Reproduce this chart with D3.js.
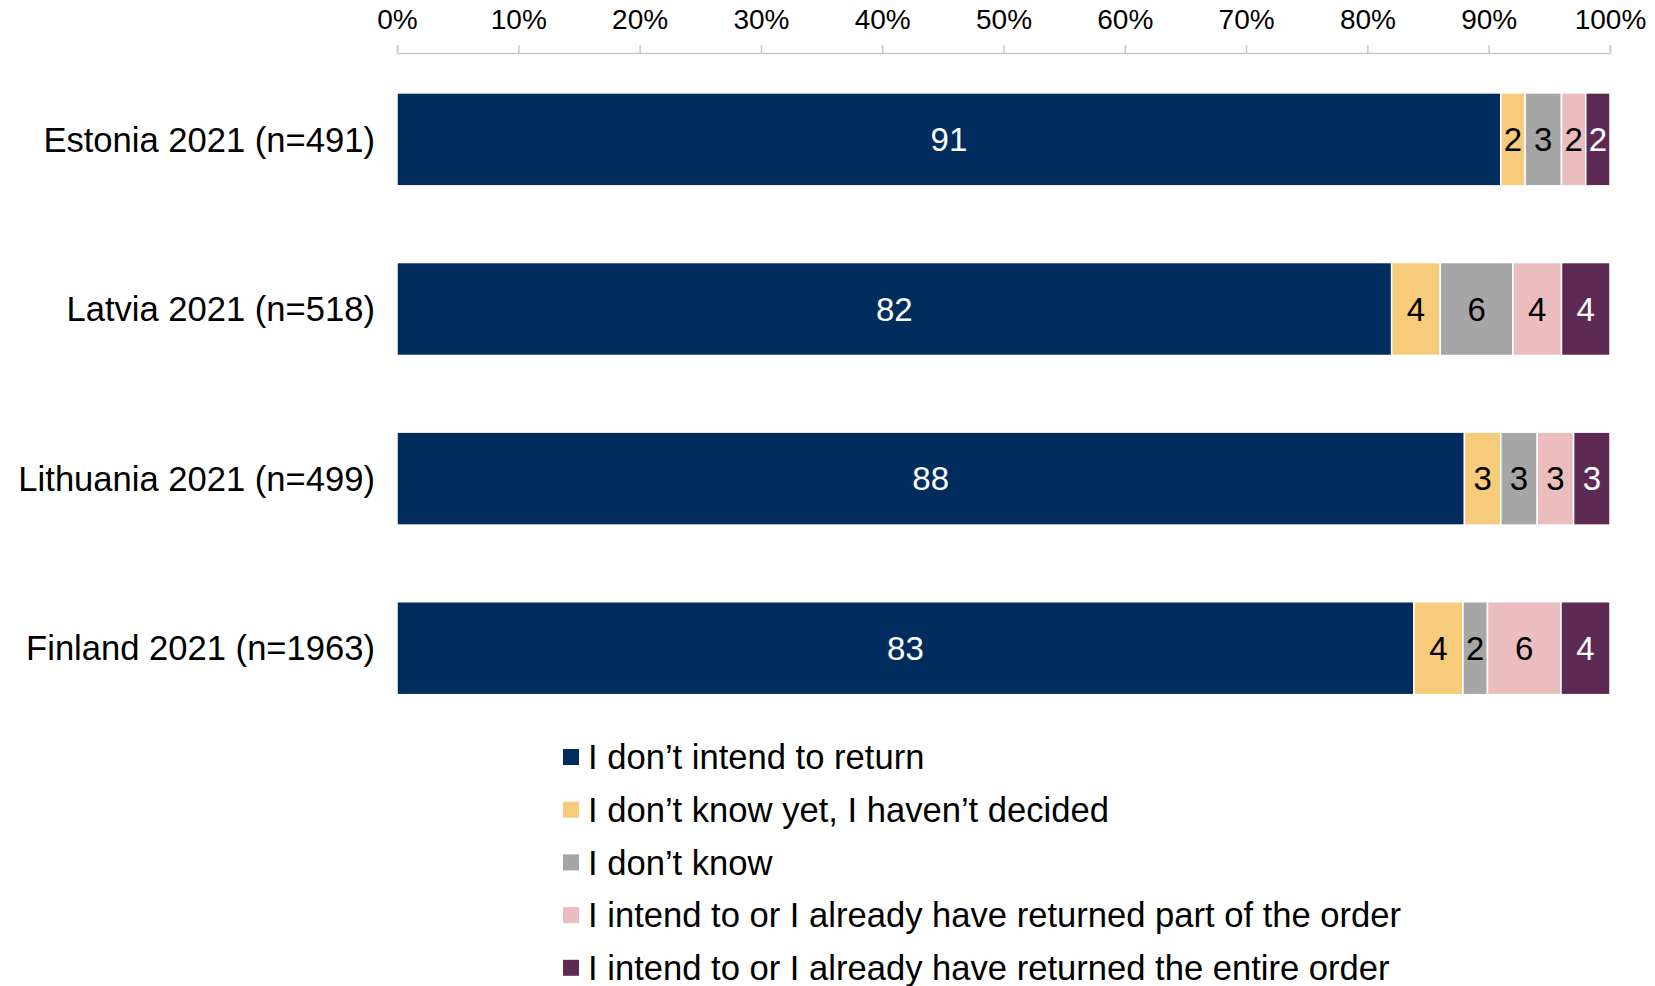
<!DOCTYPE html>
<html>
<head>
<meta charset="utf-8">
<script src="https://cdn.jsdelivr.net/npm/d3@7"></script>
<style>
  html, body { margin: 0; padding: 0; background: #fff; }
  svg { display: block; font-family: "Liberation Sans", Arial, sans-serif; }
</style>
</head>
<body>
<svg id="chart" width="1655" height="986"></svg>
<script>
// Survey groups (rows, top to bottom)
const categories = [
  "Estonia 2021 (n=491)",
  "Latvia 2021 (n=518)",
  "Lithuania 2021 (n=499)",
  "Finland 2021 (n=1963)"
];

// Answer options (stack order, left to right)
const seriesNames = [
  "I don\u2019t intend to return",
  "I don\u2019t know yet, I haven\u2019t decided",
  "I don\u2019t know",
  "I intend to or I already have returned part of the order",
  "I intend to or I already have returned the entire order"
];

// Shares in percent, one array per answer option, in category order
const notReturn      = [91, 82, 88, 83];
const notDecided     = [2, 4, 3, 4];
const dontKnow       = [3, 6, 3, 2];
const returnedPart   = [2, 4, 3, 6];
const returnedEntire = [2, 4, 3, 4];

const tickValues = [0, 0.1, 0.2, 0.3, 0.4, 0.5, 0.6, 0.7, 0.8, 0.9, 1.0];

const seriesValues = [notReturn, notDecided, dontKnow, returnedPart, returnedEntire];
const colors = ["#002D5E", "#F6CB7A", "#A6A6A6", "#ECBDBE", "#5C2A52"];
const labelColors = ["#ffffff", "#000000", "#000000", "#000000", "#ffffff"];

const svg = d3.select("#chart");

// Rows as 100% stacks
const rows = categories.map((c, i) => {
  const r = { category: c };
  seriesNames.forEach((s, k) => { r[s] = seriesValues[k][i]; });
  return r;
});
const stacked = d3.stack()
  .keys(seriesNames)
  .offset(d3.stackOffsetExpand)(rows);

const x = d3.scaleLinear().domain([0, 1]).range([397, 1610]);
const y = d3.scaleBand()
  .domain(categories)
  .range([54.6, 733])
  .paddingInner(0.452)
  .paddingOuter(0.226);

// Top percentage axis
const axisY = 53;
const axis = svg.append("g")
  .attr("transform", `translate(0,${axisY})`)
  .call(d3.axisTop(x)
    .tickValues(tickValues)
    .tickFormat(d3.format(".0%"))
    .tickSize(8)
    .tickPadding(16));
axis.select(".domain").attr("stroke", "#C8C8C8").attr("stroke-width", 1.5);
axis.selectAll(".tick line").attr("stroke", "#C8C8C8").attr("stroke-width", 1.5);
axis.selectAll(".tick text")
  .attr("fill", "#000")
  .style("font-size", "28px")
  .style("font-family", "\"Liberation Sans\", Arial, sans-serif");

// Bars
const layers = svg.append("g").selectAll("g")
  .data(stacked)
  .join("g")
  .attr("fill", (d, k) => colors[k]);

layers.selectAll("rect")
  .data(d => d)
  .join("rect")
  .attr("x", d => x(d[0]))
  .attr("y", d => y(d.data.category))
  .attr("width", d => x(d[1]) - x(d[0]))
  .attr("height", y.bandwidth())
  .attr("stroke", "#ffffff")
  .attr("stroke-width", 1.5);

// Value labels
stacked.forEach((layer, k) => {
  svg.append("g").selectAll("text")
    .data(layer)
    .join("text")
    .attr("x", d => (x(d[0]) + x(d[1])) / 2)
    .attr("y", d => y(d.data.category) + y.bandwidth() / 2)
    .attr("dy", "0.35em")
    .attr("text-anchor", "middle")
    .attr("fill", labelColors[k])
    .style("font-size", "33px")
    .text(d => d.data[seriesNames[k]]);
});

// Category labels
svg.append("g").selectAll("text")
  .data(categories)
  .join("text")
  .attr("x", 375)
  .attr("y", d => y(d) + y.bandwidth() / 2)
  .attr("dy", "0.35em")
  .attr("text-anchor", "end")
  .attr("fill", "#000")
  .style("font-size", "34.6px")
  .text(d => d);

// Legend
const legend = svg.append("g").selectAll("g")
  .data(seriesNames)
  .join("g")
  .attr("transform", (d, i) => `translate(563,${757 + i * 52.7})`);
legend.append("rect")
  .attr("x", 0).attr("y", -8)
  .attr("width", 16).attr("height", 16)
  .attr("fill", (d, i) => colors[i]);
legend.append("text")
  .attr("x", 25)
  .attr("dy", "0.35em")
  .attr("fill", "#000")
  .style("font-size", "34.6px")
  .text(d => d);
</script>
</body>
</html>
